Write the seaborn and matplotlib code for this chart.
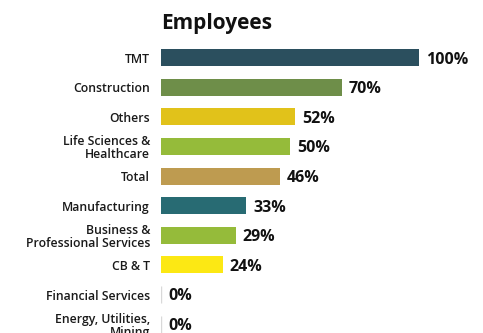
import matplotlib
matplotlib.use("Agg")
import matplotlib.pyplot as plt
import seaborn as sns
import pandas as pd

categories = [
    "TMT",
    "Construction",
    "Others",
    "Life Sciences &\nHealthcare",
    "Total",
    "Manufacturing",
    "Business &\nProfessional Services",
    "CB & T",
    "Financial Services",
    "Energy, Utilities,\nMining",
]
values = [100, 70, 52, 50, 46, 33, 29, 24, 0, 0]
colors = [
    "#2B4F5E", "#6E8E49", "#E1C21A", "#95BB3A", "#BE9B50",
    "#286B73", "#95BB3A", "#FCE814", "#D9D9D9", "#D9D9D9",
]
value_labels = [f"{v}%" for v in values]
title = "Employees"

sns.set_theme(style="white")
plt.rcParams["font.family"] = ["Open Sans", "DejaVu Sans"]

df = pd.DataFrame({"category": categories, "value": values})

fig = plt.figure(figsize=(4.83, 3.33), dpi=100)
ax = fig.add_axes([161 / 483, 0, 322 / 483, 290 / 333])

sns.barplot(
    data=df, x="value", y="category", hue="category",
    palette=dict(zip(categories, colors)), order=categories,
    orient="h", legend=False, width=0.575, ax=ax, saturation=1,
)

# zero-valued bars show as a thin grey stub at the baseline
for patch, v, c in zip(ax.patches, values, colors):
    if v == 0:
        patch.set_edgecolor(c)
        patch.set_linewidth(1.0)
    else:
        patch.set_edgecolor("none")

for i, (v, lab) in enumerate(zip(values, value_labels)):
    ax.text(v + 2.7, i + 0.06, lab, va="center", ha="left",
            fontsize=11.5, fontweight="bold", color="#111111")

ax.set_xlim(0, 124.8)
ax.set_ylim(9.30, -0.5)
ax.set_xlabel("")
ax.set_ylabel("")
ax.set_xticks([])
ax.tick_params(axis="y", length=0, pad=8)
for lbl in ax.get_yticklabels():
    lbl.set_fontsize(8.8)
    lbl.set_color("#1A1A1A")
    lbl.set_fontweight("semibold")
    lbl.set_linespacing(1.0)
for s in ax.spines.values():
    s.set_visible(False)

fig.text(161 / 483, 1 - 23.5 / 333, title, ha="left", va="center",
         fontsize=15, fontweight="bold", color="#111111")

fig.savefig("out.png", dpi=100, facecolor="white")
